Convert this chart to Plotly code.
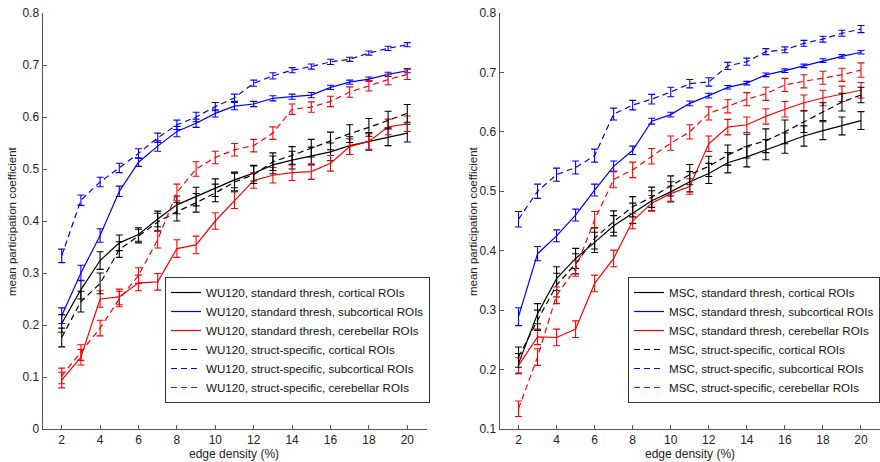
import plotly.graph_objects as go

density = list(range(2, 21))
x_ticks = [2, 4, 6, 8, 10, 12, 14, 16, 18, 20]
y_ticks_left = [0, 0.1, 0.2, 0.3, 0.4, 0.5, 0.6, 0.7, 0.8]
y_ticks_right = [0.1, 0.2, 0.3, 0.4, 0.5, 0.6, 0.7, 0.8]

# ---- Left panel: WU120 ----
wu_std_cort = [0.203, 0.268, 0.324, 0.358, 0.374, 0.404, 0.431, 0.447, 0.464, 0.479,
               0.492, 0.508, 0.517, 0.525, 0.533, 0.545, 0.553, 0.562, 0.569]
wu_std_cort_err = [0.017, 0.018, 0.017, 0.015, 0.013, 0.015, 0.017, 0.018, 0.017, 0.015,
                   0.015, 0.017, 0.017, 0.017, 0.017, 0.017, 0.017, 0.017, 0.017]
wu_std_sub = [0.218, 0.300, 0.372, 0.457, 0.513, 0.544, 0.572, 0.588, 0.607, 0.621,
              0.625, 0.636, 0.639, 0.642, 0.657, 0.667, 0.673, 0.682, 0.689]
wu_std_sub_err = [0.015, 0.015, 0.013, 0.010, 0.008, 0.010, 0.010, 0.008, 0.007, 0.007,
                  0.005, 0.005, 0.005, 0.005, 0.004, 0.004, 0.004, 0.004, 0.004]
wu_std_cer = [0.094, 0.138, 0.250, 0.254, 0.281, 0.283, 0.347, 0.354, 0.400, 0.440,
              0.478, 0.488, 0.493, 0.495, 0.511, 0.543, 0.553, 0.581, 0.587]
wu_std_cer_err = [0.015, 0.015, 0.016, 0.015, 0.015, 0.016, 0.017, 0.017, 0.016, 0.016,
                  0.015, 0.015, 0.015, 0.015, 0.015, 0.015, 0.015, 0.015, 0.015]
wu_ss_cort = [0.176, 0.245, 0.280, 0.345, 0.371, 0.398, 0.418, 0.435, 0.454, 0.475,
              0.489, 0.514, 0.526, 0.540, 0.554, 0.568, 0.580, 0.594, 0.607]
wu_ss_cort_err = [0.018, 0.020, 0.020, 0.015, 0.013, 0.017, 0.018, 0.018, 0.017, 0.017,
                  0.017, 0.017, 0.017, 0.017, 0.017, 0.017, 0.017, 0.017, 0.017]
wu_ss_sub = [0.333, 0.440, 0.475, 0.502, 0.530, 0.560, 0.585, 0.600, 0.620, 0.637,
             0.665, 0.679, 0.690, 0.697, 0.706, 0.711, 0.723, 0.732, 0.739]
wu_ss_sub_err = [0.013, 0.010, 0.009, 0.009, 0.009, 0.009, 0.009, 0.009, 0.008, 0.007,
                 0.006, 0.006, 0.005, 0.005, 0.005, 0.004, 0.004, 0.004, 0.004]
wu_ss_cer = [0.102, 0.147, 0.194, 0.250, 0.295, 0.364, 0.455, 0.500, 0.522, 0.537,
             0.545, 0.569, 0.615, 0.619, 0.630, 0.648, 0.660, 0.672, 0.682]
wu_ss_cer_err = [0.015, 0.015, 0.015, 0.015, 0.015, 0.016, 0.016, 0.014, 0.012, 0.012,
                 0.012, 0.012, 0.010, 0.010, 0.010, 0.010, 0.010, 0.010, 0.010]

# ---- Right panel: MSC ----
msc_std_cort = [0.210, 0.294, 0.353, 0.387, 0.414, 0.442, 0.463, 0.484, 0.499, 0.516,
                0.530, 0.548, 0.558, 0.570, 0.581, 0.593, 0.602, 0.610, 0.619]
msc_std_cort_err = [0.017, 0.017, 0.020, 0.017, 0.017, 0.017, 0.017, 0.017, 0.017, 0.017,
                    0.017, 0.017, 0.017, 0.017, 0.017, 0.017, 0.015, 0.015, 0.015]
msc_std_sub = [0.289, 0.395, 0.425, 0.460, 0.502, 0.542, 0.569, 0.618, 0.629, 0.648,
               0.661, 0.675, 0.682, 0.696, 0.703, 0.711, 0.720, 0.727, 0.734]
msc_std_sub_err = [0.015, 0.012, 0.010, 0.010, 0.010, 0.009, 0.007, 0.005, 0.004, 0.004,
                   0.004, 0.003, 0.003, 0.003, 0.003, 0.003, 0.003, 0.003, 0.003]
msc_std_cer = [0.207, 0.255, 0.254, 0.268, 0.345, 0.387, 0.450, 0.480, 0.496, 0.508,
               0.580, 0.608, 0.612, 0.626, 0.638, 0.649, 0.657, 0.664, 0.670]
msc_std_cer_err = [0.013, 0.013, 0.014, 0.014, 0.014, 0.014, 0.013, 0.013, 0.013, 0.013,
                   0.013, 0.013, 0.013, 0.013, 0.013, 0.013, 0.013, 0.013, 0.013]
msc_ss_cort = [0.221, 0.283, 0.342, 0.378, 0.421, 0.449, 0.474, 0.490, 0.509, 0.528,
               0.542, 0.561, 0.576, 0.585, 0.600, 0.617, 0.634, 0.650, 0.662]
msc_ss_cort_err = [0.017, 0.017, 0.020, 0.017, 0.018, 0.018, 0.017, 0.017, 0.017, 0.017,
                   0.017, 0.017, 0.020, 0.020, 0.020, 0.018, 0.015, 0.015, 0.013]
msc_ss_sub = [0.453, 0.500, 0.528, 0.540, 0.560, 0.630, 0.645, 0.655, 0.667, 0.681,
              0.684, 0.711, 0.718, 0.735, 0.738, 0.749, 0.756, 0.766, 0.773]
msc_ss_sub_err = [0.013, 0.012, 0.011, 0.011, 0.011, 0.010, 0.008, 0.008, 0.008, 0.007,
                  0.007, 0.006, 0.006, 0.005, 0.005, 0.005, 0.005, 0.005, 0.006]
msc_ss_cer = [0.134, 0.221, 0.325, 0.370, 0.452, 0.520, 0.536, 0.559, 0.581, 0.600,
              0.631, 0.643, 0.655, 0.664, 0.679, 0.685, 0.691, 0.696, 0.704]
msc_ss_cer_err = [0.013, 0.014, 0.014, 0.013, 0.014, 0.014, 0.013, 0.013, 0.012, 0.012,
                  0.011, 0.011, 0.011, 0.011, 0.011, 0.011, 0.011, 0.011, 0.012]

BLACK = "#000000"
BLUE = "#0000ff"
RED = "#ff0000"
DASH = "6px,4px"
FONT = "Liberation Sans, Arial, sans-serif"

left_series = [
    ("WU120, standard thresh, cortical ROIs", wu_std_cort, wu_std_cort_err, BLACK, "solid"),
    ("WU120, standard thresh, subcortical ROIs", wu_std_sub, wu_std_sub_err, BLUE, "solid"),
    ("WU120, standard thresh, cerebellar ROIs", wu_std_cer, wu_std_cer_err, RED, "solid"),
    ("WU120, struct-specific, cortical ROIs", wu_ss_cort, wu_ss_cort_err, BLACK, DASH),
    ("WU120, struct-specific, subcortical ROIs", wu_ss_sub, wu_ss_sub_err, BLUE, DASH),
    ("WU120, struct-specific, cerebellar ROIs", wu_ss_cer, wu_ss_cer_err, RED, DASH),
]
right_series = [
    ("MSC, standard thresh, cortical ROIs", msc_std_cort, msc_std_cort_err, BLACK, "solid"),
    ("MSC, standard thresh, subcortical ROIs", msc_std_sub, msc_std_sub_err, BLUE, "solid"),
    ("MSC, standard thresh, cerebellar ROIs", msc_std_cer, msc_std_cer_err, RED, "solid"),
    ("MSC, struct-specific, cortical ROIs", msc_ss_cort, msc_ss_cort_err, BLACK, DASH),
    ("MSC, struct-specific, subcortical ROIs", msc_ss_sub, msc_ss_sub_err, BLUE, DASH),
    ("MSC, struct-specific, cerebellar ROIs", msc_ss_cer, msc_ss_cer_err, RED, DASH),
]

fig = go.Figure()

for name, vals, errs, color, dash in left_series:
    fig.add_trace(go.Scatter(
        x=density, y=vals, name=name, mode="lines",
        line=dict(color=color, width=1.2, dash=dash),
        error_y=dict(type="data", array=errs, visible=True, color=color,
                     thickness=1.1, width=3.5),
        xaxis="x", yaxis="y", legend="legend",
    ))

for name, vals, errs, color, dash in right_series:
    fig.add_trace(go.Scatter(
        x=density, y=vals, name=name, mode="lines",
        line=dict(color=color, width=1.2, dash=dash),
        error_y=dict(type="data", array=errs, visible=True, color=color,
                     thickness=1.1, width=3.5),
        xaxis="x2", yaxis="y2", legend="legend2",
    ))

W, H = 880, 462
MT, MB = 13, 33
PH = H - MT - MB  # plot height in px


def px(xp):
    """page x pixel -> paper fraction"""
    return xp / W


def py(yp):
    """page y pixel -> paper fraction (0 at plot bottom, 1 at plot top)"""
    return (H - MB - yp) / PH


axis_common = dict(
    showgrid=False, zeroline=False, showline=True, linecolor="#555555", linewidth=1,
    ticks="inside", ticklen=4, tickcolor="#555555", mirror=False,
    ticklabeloverflow="allow",
    tickfont=dict(family=FONT, size=12, color="#222222"),
)

legend_common = dict(
    xref="paper", yref="paper", yanchor="top",
    bgcolor="white", bordercolor="#333333", borderwidth=1,
    font=dict(family=FONT, size=11.6, color="#111111"), tracegroupgap=0,
)

fig.update_layout(
    width=W, height=H,
    margin=dict(l=0, r=0, t=MT, b=MB, autoexpand=False),
    paper_bgcolor="white", plot_bgcolor="white",
    showlegend=True,
    xaxis=dict(domain=[px(42.5), px(426.5)], range=[1, 21], tickvals=x_ticks, **axis_common),
    yaxis=dict(domain=[0, 1], range=[0, 0.8], tickvals=y_ticks_left, anchor="x", **axis_common),
    xaxis2=dict(domain=[px(499.5), 1.0], range=[1, 21], tickvals=x_ticks, anchor="y2", **axis_common),
    yaxis2=dict(domain=[0, 1], range=[0.1, 0.8], tickvals=y_ticks_right, anchor="x2", **axis_common),
    legend=dict(x=px(165), y=py(277), xanchor="left", **legend_common),
    legend2=dict(x=1.0, y=py(277), xanchor="right", **legend_common),
    annotations=[
        dict(text="edge density (%)", xref="paper", yref="paper",
             x=px(234), y=py(454), xanchor="center", yanchor="middle", showarrow=False,
             font=dict(family=FONT, size=12, color="#222222")),
        dict(text="edge density (%)", xref="paper", yref="paper",
             x=px(690), y=py(454), xanchor="center", yanchor="middle", showarrow=False,
             font=dict(family=FONT, size=12, color="#222222")),
        dict(text="mean participation coefficient", xref="paper", yref="paper",
             x=px(12), y=0.5, xanchor="center", yanchor="middle", textangle=-90,
             showarrow=False, font=dict(family=FONT, size=11.5, color="#222222")),
        dict(text="mean participation coefficient", xref="paper", yref="paper",
             x=px(473), y=0.5, xanchor="center", yanchor="middle", textangle=-90,
             showarrow=False, font=dict(family=FONT, size=11.5, color="#222222")),
    ],
)

# Remove the browser's default 8px body margin so the figure fills the window exactly.
fig.write_html("out.html", config={"displayModeBar": False},
               post_script="document.body.style.margin='0px';")
